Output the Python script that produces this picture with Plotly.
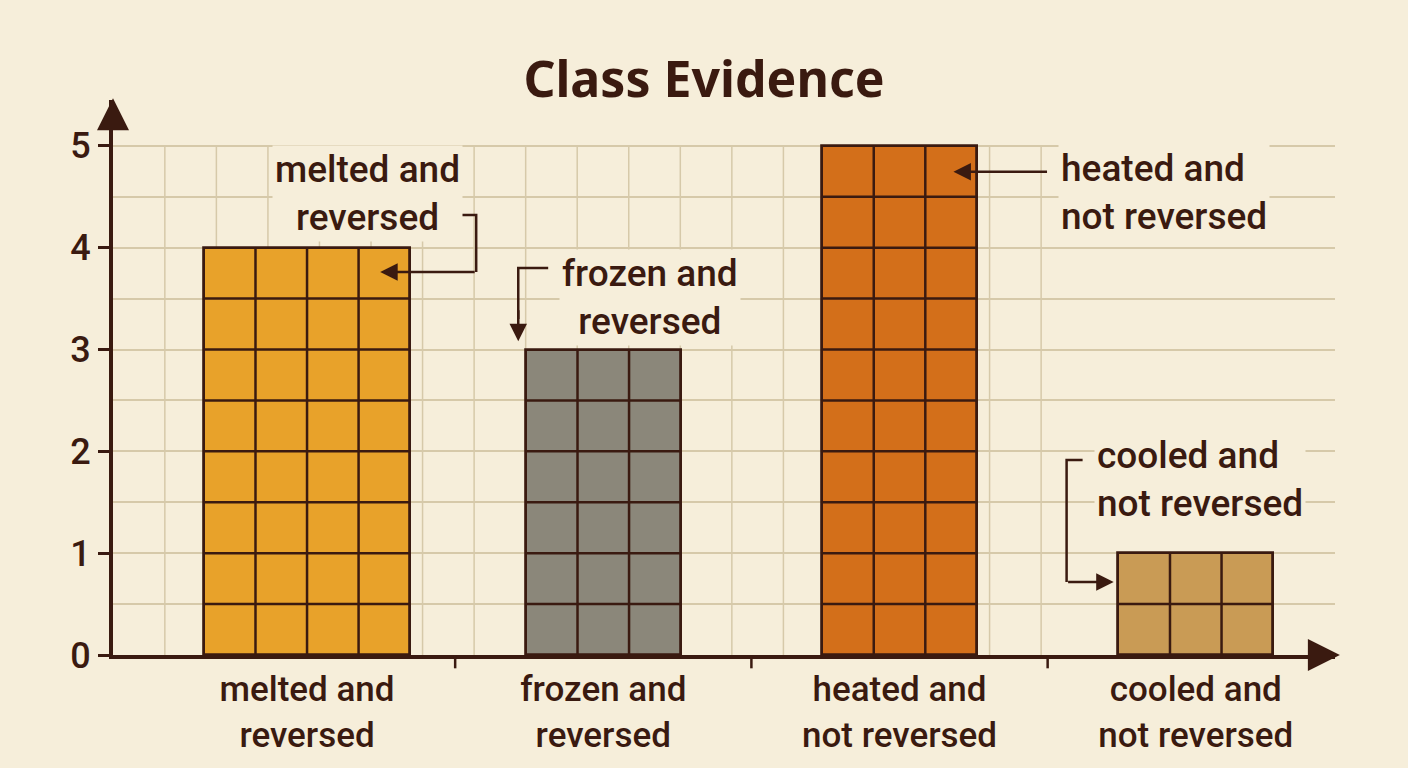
import plotly.graph_objects as go

# data
categories = ["melted and<br>reversed", "frozen and<br>reversed",
              "heated and<br>not reversed", "cooled and<br>not reversed"]
counts = [4, 3, 5, 1]
bar_colors = ["#E8A22A", "#8B877A", "#D36F1A", "#C99B55"]
cells_wide = [4, 3, 3, 3]  # number of grid cells across each bar

DARK = "#3A1A10"
BG = "#F6EEDA"
GRID = "#D6C9A9"
CELL = 0.174  # one grid cell in x units
FONT = "Roboto"

xs = list(range(len(categories)))
widths = [n * CELL for n in cells_wide]

fig = go.Figure(go.Bar(
    x=xs, y=counts, width=widths,
    marker=dict(color=bar_colors, line=dict(color=DARK, width=2.8)),
    hoverinfo="skip",
))

shapes = []
# vertical background grid (stops before the last category, like the sketch)
for k in range(18):
    gx = -0.48 + k * CELL
    shapes.append(dict(type="line", xref="x", yref="y", x0=gx, x1=gx, y0=0, y1=5,
                       line=dict(color=GRID, width=1.5), layer="below"))

# cell lines inside each bar
for x, v, n, w in zip(xs, counts, cells_wide, widths):
    left = x - w / 2
    for k in range(1, n):
        shapes.append(dict(type="line", xref="x", yref="y", x0=left + k * CELL, x1=left + k * CELL,
                           y0=0, y1=v, line=dict(color=DARK, width=2.5)))
    h = 0.5
    while h < v:
        shapes.append(dict(type="line", xref="x", yref="y", x0=left, x1=left + w, y0=h, y1=h,
                           line=dict(color=DARK, width=2.5)))
        h += 0.5

# small ticks between categories
for i in range(len(categories) - 1):
    shapes.append(dict(type="line", xref="x", yref="paper", x0=i + 0.5, x1=i + 0.5, y0=0, y1=-0.024,
                       line=dict(color=DARK, width=2.5)))

# elbow connectors for the callouts
elbows = [
    "M 0.49 4.32 L 0.571 4.32 L 0.571 3.76",      # melted
    "M 0.814 3.80 L 0.713 3.80 L 0.713 3.3",      # frozen
    "M 2.618 1.915 L 2.564 1.915 L 2.564 0.717",  # cooled
]
for p in elbows:
    shapes.append(dict(type="path", xref="x", yref="y", path=p, line=dict(color=DARK, width=2.5)))

annotations = []
# arrow heads of callouts: (tip x, tip y, tail x, tail y)
arrows = [(0.247, 3.76, 0.571, 3.76), (0.713, 3.08, 0.713, 3.4),
          (2.182, 4.745, 2.503, 4.745), (2.723, 0.717, 2.564, 0.717)]
for tx, ty, sx, sy in arrows:
    annotations.append(dict(x=tx, y=ty, ax=sx, ay=sy, xref="x", yref="y", axref="x", ayref="y",
                            text="", showarrow=True, arrowhead=2, arrowsize=1.4, arrowwidth=2.5,
                            arrowcolor=DARK))

callouts = [
    ("melted and<br>reversed", 0.203, 4.53, "center"),
    ("frozen and<br>reversed", 1.159, 3.51, "center"),
    ("heated and<br>not reversed", 2.534, 4.54, "left"),
    ("cooled and<br>not reversed", 2.655, 1.72, "left"),
]
for txt, x, y, anchor in callouts:
    annotations.append(dict(x=x, y=y, xref="x", yref="y", text=txt, showarrow=False,
                            xanchor=anchor, align=anchor, bgcolor=BG, borderpad=2,
                            font=dict(family=FONT, size=37, color=DARK, weight=500)))

# axis arrow heads
annotations.append(dict(x=0, y=1.003, xref="paper", yref="paper", ax=0, ay=30, text="", showarrow=True,
                        arrowhead=2, arrowsize=1.6, arrowwidth=4, arrowcolor=DARK))
annotations.append(dict(x=1.004, y=0, xref="paper", yref="paper", ax=-30, ay=0, text="", showarrow=True,
                        arrowhead=2, arrowsize=1.6, arrowwidth=4, arrowcolor=DARK))

fig.update_layout(
    width=1408, height=768,
    paper_bgcolor=BG, plot_bgcolor=BG,
    margin=dict(l=113, r=73, t=100, b=113),
    showlegend=False,
    title=dict(text="<b>Class Evidence</b>", x=0.5, xanchor="center", y=0.896, yanchor="middle",
               font=dict(family="Noto Sans", size=50, color=DARK)),
    shapes=shapes,
    annotations=annotations,
    bargap=0,
)
fig.update_xaxes(
    range=[-0.655, 3.47], tickvals=xs, ticktext=categories, ticks="", showgrid=False,
    zeroline=False, showline=True, linewidth=4, linecolor=DARK, ticklabelstandoff=0,
    tickfont=dict(family=FONT, size=35, color=DARK, weight=500),
)
fig.update_yaxes(
    range=[0, 5.45], dtick=1, ticks="outside", ticklen=11, tickwidth=3, tickcolor=DARK,
    showgrid=True, gridcolor=GRID, gridwidth=1.5, zeroline=False,
    minor=dict(dtick=0.5, showgrid=True, gridcolor=GRID, gridwidth=1.5),
    showline=True, linewidth=4, linecolor=DARK,
    tickfont=dict(family=FONT, size=36, color=DARK, weight=500),
)

fig.write_html("out.html", config={"displayModeBar": False},
               post_script="document.body.style.margin='0';")
